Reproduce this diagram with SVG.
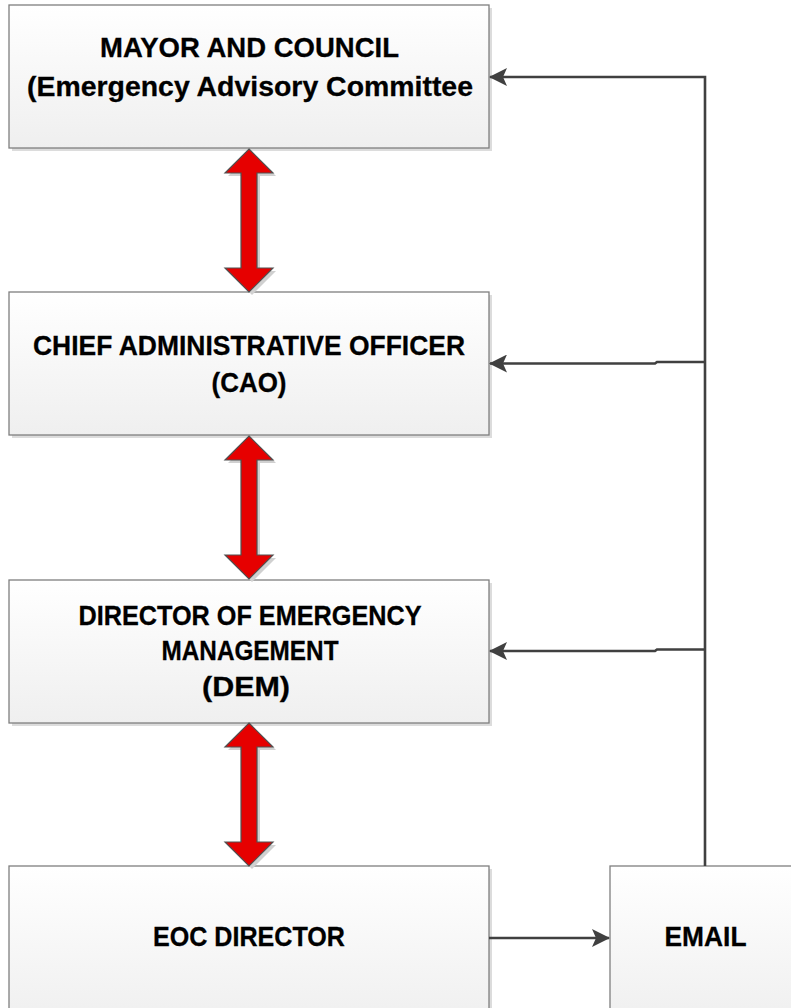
<svg xmlns="http://www.w3.org/2000/svg" width="791" height="1008" viewBox="0 0 791 1008">
  <defs>
    <linearGradient id="boxFill" x1="0" y1="0" x2="0" y2="1">
      <stop offset="0" stop-color="#ffffff"/>
      <stop offset="1" stop-color="#efefef"/>
    </linearGradient>
    <marker id="arrowHead" viewBox="0 0 18 18" refX="17" refY="9" markerWidth="18" markerHeight="18" markerUnits="userSpaceOnUse" orient="auto">
      <path d="M0 0 L18 9 L0 18 L4 9 Z" fill="#404040"/>
    </marker>
  </defs>
  <style>
    .shadow { fill: #dcdcdc; }
    .box { fill: url(#boxFill); stroke: #7f7f7f; stroke-width: 1.3; }
    .label { font-family: "Liberation Sans", Arial, sans-serif; font-weight: bold; font-size: 28.5px; fill: #000; text-anchor: middle; stroke: #000; stroke-width: 0.3; }
    .link { fill: none; stroke: #404040; stroke-width: 2.6; }
    .dbl { fill: #e60000; stroke: #505050; stroke-width: 1.2; stroke-linejoin: miter; }
    .dblShadow { fill: #d0d0d0; }
  </style>

  <rect width="791" height="1008" fill="#ffffff"/>

  <!-- Mayor and Council -->
  <g id="mayor-council">
    <rect class="shadow" x="12" y="8" width="480" height="143"/>
    <rect class="box" x="9" y="5" width="480" height="143"/>
    <text class="label" x="249.5" y="57" textLength="299" lengthAdjust="spacingAndGlyphs">MAYOR AND COUNCIL</text>
    <text class="label" x="250" y="96" textLength="446" lengthAdjust="spacingAndGlyphs">(Emergency Advisory Committee</text>
  </g>

  <!-- Chief Administrative Officer -->
  <g id="cao">
    <rect class="shadow" x="12" y="295" width="480" height="143"/>
    <rect class="box" x="9" y="292" width="480" height="143"/>
    <text class="label" x="249" y="355" textLength="432" lengthAdjust="spacingAndGlyphs">CHIEF ADMINISTRATIVE OFFICER</text>
    <text class="label" x="249" y="392" textLength="75" lengthAdjust="spacingAndGlyphs">(CAO)</text>
  </g>

  <!-- Director of Emergency Management -->
  <g id="dem">
    <rect class="shadow" x="12" y="583" width="480" height="143"/>
    <rect class="box" x="9" y="580" width="480" height="143"/>
    <text class="label" x="250" y="625" textLength="343" lengthAdjust="spacingAndGlyphs">DIRECTOR OF EMERGENCY</text>
    <text class="label" x="250" y="660" textLength="177" lengthAdjust="spacingAndGlyphs">MANAGEMENT</text>
    <text class="label" x="246" y="696" textLength="88" lengthAdjust="spacingAndGlyphs">(DEM)</text>
  </g>

  <!-- EOC Director -->
  <g id="eoc-director">
    <rect class="shadow" x="12" y="869" width="480" height="160"/>
    <rect class="box" x="9" y="866" width="480" height="160"/>
    <text class="label" x="249" y="946" textLength="192" lengthAdjust="spacingAndGlyphs">EOC DIRECTOR</text>
  </g>

  <!-- Email -->
  <g id="email">
    <rect class="box" x="610" y="866" width="200" height="160"/>
    <text class="label" x="705.5" y="946" textLength="82" lengthAdjust="spacingAndGlyphs">EMAIL</text>
  </g>

  <!-- Two-way links between levels -->
  <g id="two-way-links">
    <polygon class="dblShadow" points="252,152 276,176 260,176 260,271 276,271 252,295 228,271 244,271 244,176 228,176"/>
    <polygon class="dbl" points="249,149 273,173 257,173 257,268 273,268 249,292 225,268 241,268 241,173 225,173"/>

    <polygon class="dblShadow" points="252,439 276,463 260,463 260,558 276,558 252,582 228,558 244,558 244,463 228,463"/>
    <polygon class="dbl" points="249,436 273,460 257,460 257,555 273,555 249,579 225,555 241,555 241,460 225,460"/>

    <polygon class="dblShadow" points="252,726 276,750 260,750 260,845 276,845 252,869 228,845 244,845 244,750 228,750"/>
    <polygon class="dbl" points="249,723 273,747 257,747 257,842 273,842 249,866 225,842 241,842 241,747 225,747"/>
  </g>

  <!-- Email distribution connectors -->
  <g id="connectors">
    <path class="link" d="M705 866 V77 H490" marker-end="url(#arrowHead)"/>
    <path class="link" d="M705 362 H657 L655 363.5 H490" marker-end="url(#arrowHead)"/>
    <path class="link" d="M705 649.5 H657 L655 651 H490" marker-end="url(#arrowHead)"/>
    <path class="link" d="M489 938 H609" marker-end="url(#arrowHead)"/>
  </g>
</svg>
